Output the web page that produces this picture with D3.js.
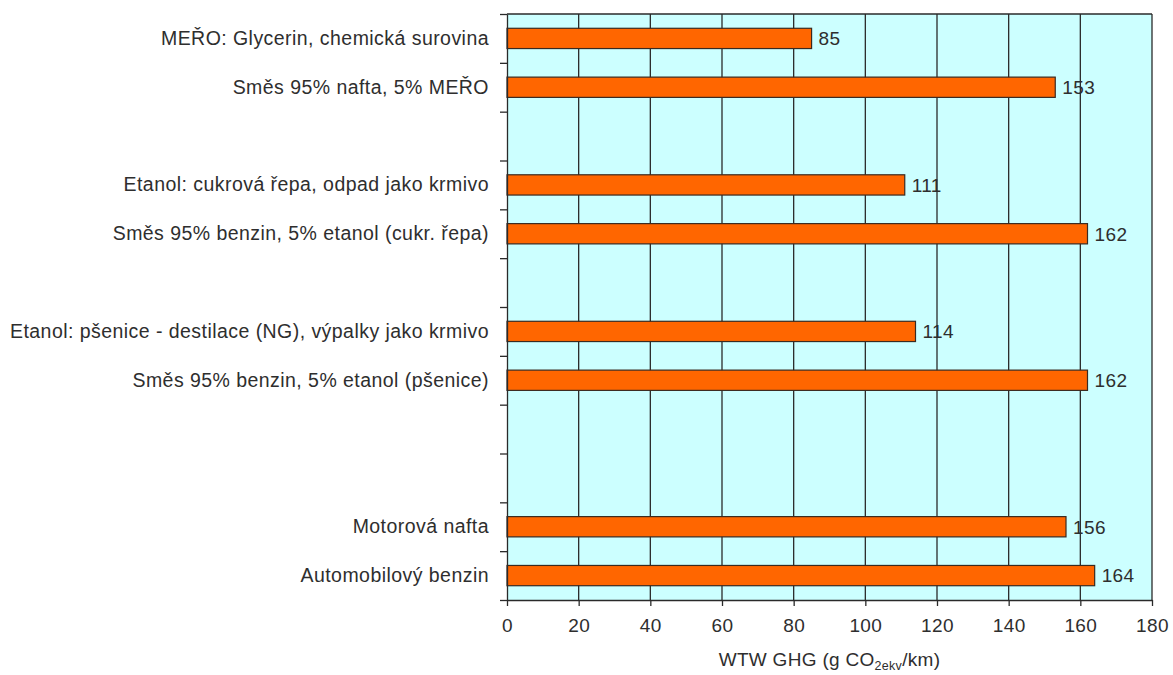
<!DOCTYPE html>
<html>
<head>
<meta charset="utf-8">
<script src="https://cdn.jsdelivr.net/npm/d3@7"></script>
<style>
  html, body { margin: 0; padding: 0; background: #ffffff; }
  svg { display: block; }
  text { font-family: "Liberation Sans", Arial, sans-serif; fill: #2e2e2e; }
</style>
</head>
<body>
<svg id="chart" width="1173" height="675"></svg>
<script>
// Row labels, top to bottom; empty strings are spacer rows
const categories = [
  "MEŘO: Glycerin, chemická surovina",
  "Směs 95% nafta, 5% MEŘO",
  "",
  "Etanol: cukrová řepa, odpad jako krmivo",
  "Směs 95% benzin, 5% etanol (cukr. řepa)",
  "",
  "Etanol: pšenice - destilace (NG), výpalky jako krmivo",
  "Směs 95% benzin, 5% etanol (pšenice)",
  "",
  "",
  "Motorová nafta",
  "Automobilový benzin"
];
// WTW GHG emissions, g CO2ekv/km (null = spacer row)
const values = [85, 153, null, 111, 162, null, 114, 162, null, null, 156, 164];
const xTicks = [0, 20, 40, 60, 80, 100, 120, 140, 160, 180];

const svg = d3.select("#chart");
const margin = { top: 14, right: 21, bottom: 75, left: 507 };
const W = 1173, H = 675;
const iw = W - margin.left - margin.right;
const ih = H - margin.top - margin.bottom;
const FONT = "'Liberation Sans', Arial, sans-serif";

const g = svg.append("g").attr("transform", `translate(${margin.left},${margin.top})`);

const x = d3.scaleLinear().domain([0, 180]).range([0, iw]);
const slots = d3.range(categories.length);
const y = d3.scaleBand().domain(slots).range([0, ih]).paddingInner(0.585).paddingOuter(0.2925);
const yEdge = d3.scaleLinear().domain([0, categories.length]).range([0, ih]);

// plot background
g.append("rect").attr("x", 0).attr("y", 0).attr("width", iw).attr("height", ih)
  .attr("fill", "#ccffff");

// vertical grid lines
g.append("g").selectAll("line").data(xTicks.filter(d => d > 0)).join("line")
  .attr("x1", d => x(d)).attr("x2", d => x(d))
  .attr("y1", 0).attr("y2", ih)
  .attr("stroke", "#2a2a2a").attr("stroke-width", 1.3);

// top border
g.append("line").attr("x1", 0).attr("x2", iw).attr("y1", 0).attr("y2", 0)
  .attr("stroke", "#2a2a2a").attr("stroke-width", 1.3);

// bars
const rows = slots.filter(i => values[i] != null);
g.append("g").selectAll("rect").data(rows).join("rect")
  .attr("x", 0)
  .attr("y", i => y(i))
  .attr("width", i => x(values[i]))
  .attr("height", y.bandwidth())
  .attr("fill", "#ff6600")
  .attr("stroke", "#3a2a20").attr("stroke-width", 1.2);

// value labels
g.append("g").selectAll("text").data(rows).join("text")
  .attr("x", i => x(values[i]) + 7)
  .attr("y", i => y(i) + y.bandwidth() / 2)
  .attr("dy", "0.36em")
  .attr("font-size", 19)
  .attr("letter-spacing", 0.4)
  .text(i => values[i]);

// x axis
const xAxis = g.append("g").attr("transform", `translate(0,${ih})`)
  .call(d3.axisBottom(x).tickValues(xTicks).tickSize(6).tickPadding(13).tickSizeOuter(0));
xAxis.select(".domain").attr("stroke", "#2a2a2a").attr("stroke-width", 1.3);
xAxis.selectAll(".tick line").attr("stroke", "#2a2a2a").attr("stroke-width", 1.3);
xAxis.selectAll(".tick text").attr("font-size", 19).attr("fill", "#2e2e2e")
  .attr("letter-spacing", 0.4).style("font-family", FONT);

// y axis: tick marks on row boundaries
const yTickAxis = g.append("g")
  .call(d3.axisLeft(yEdge).tickValues(d3.range(categories.length + 1)).tickSize(7).tickFormat("").tickSizeOuter(0));
yTickAxis.select(".domain").attr("stroke", "#2a2a2a").attr("stroke-width", 1.3);
yTickAxis.selectAll(".tick line").attr("stroke", "#2a2a2a").attr("stroke-width", 1.3);

// y axis: row labels centred on bars
const yLabelAxis = g.append("g")
  .call(d3.axisLeft(y).tickSize(0).tickPadding(18).tickFormat(i => categories[i]));
yLabelAxis.select(".domain").remove();
yLabelAxis.selectAll(".tick text").attr("font-size", 19.5).attr("fill", "#2e2e2e")
  .attr("letter-spacing", 0.45).style("font-family", FONT);

// x axis title with subscript
const title = svg.append("text")
  .attr("x", margin.left + iw / 2)
  .attr("y", 666)
  .attr("text-anchor", "middle")
  .attr("font-size", 19)
  .attr("letter-spacing", 0.3);
title.append("tspan").text("WTW GHG (g CO");
title.append("tspan").attr("font-size", 12.5).attr("dy", 4).text("2ekv");
title.append("tspan").attr("dy", -4).text("/km)");
</script>
</body>
</html>
